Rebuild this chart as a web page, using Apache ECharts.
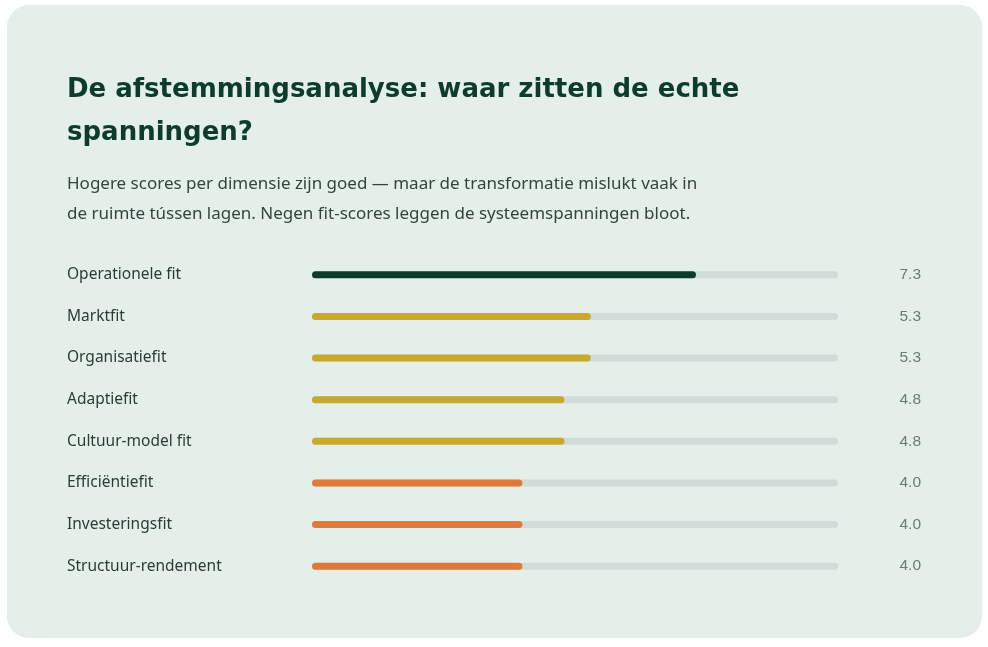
<!DOCTYPE html>
<html>
<head>
<meta charset="utf-8">
<script src="https://cdn.jsdelivr.net/npm/echarts@6/dist/echarts.min.js"></script>
<style>
  html, body { margin: 0; padding: 0; background: #fff; }
  #chart { width: 988px; height: 647px; }
</style>
</head>
<body>
<div id="chart"></div>
<script>
const categories = [
  "Operationele fit", "Marktfit", "Organisatiefit", "Adaptiefit",
  "Cultuur-model fit", "Efficiëntiefit", "Investeringsfit", "Structuur-rendement"
];
const scores = [7.3, 5.3, 5.3, 4.8, 4.8, 4.0, 4.0, 4.0];
const maxScore = 10;

const titleText = "De afstemmingsanalyse: waar zitten de echte\nspanningen?";
const subText = "Hogere scores per dimensie zijn goed — maar de transformatie mislukt vaak in\nde ruimte tússen lagen. Negen fit-scores leggen de systeemspanningen bloot.";

// kleur per score-band
function barColor(v) {
  if (v >= 7) return "#0b3d2e";
  if (v >= 4.5) return "#c9a82e";
  return "#e07a3a";
}

const chart = echarts.init(document.getElementById("chart"));

chart.setOption({
  animation: false,
  graphic: [
    {
      type: "rect",
      z: -10,
      shape: { x: 7, y: 5, width: 975, height: 633, r: 22 },
      style: { fill: "#e4efe9" },
    },
  ],
  title: {
    left: 67,
    top: 69,
    padding: 0,
    text: titleText,
    subtext: subText,
    itemGap: 14,
    textStyle: {
      fontFamily: "DejaVu Sans",
      fontWeight: 700,
      fontSize: 26,
      lineHeight: 43,
      color: "#0d3b2e",
    },
    subtextStyle: {
      fontFamily: "Noto Sans",
      fontSize: 17,
      lineHeight: 30,
      color: "#34433d",
    },
  },
  grid: { left: 312, right: 150, top: 254, bottom: 60 },
  xAxis: {
    type: "value",
    min: 0,
    max: maxScore,
    show: false,
  },
  yAxis: [
    {
      type: "category",
      inverse: true,
      data: categories,
      axisLine: { show: false },
      axisTick: { show: false },
      axisLabel: {
        align: "left",
        margin: 245,
        fontFamily: "Noto Sans",
        fontSize: 15.5,
        color: "#2d3b36",
      },
    },
    {
      type: "category",
      inverse: true,
      position: "right",
      data: scores.map((v) => v.toFixed(1)),
      axisLine: { show: false },
      axisTick: { show: false },
      axisLabel: {
        align: "right",
        margin: 83,
        fontFamily: "Liberation Sans",
        fontSize: 15.5,
        color: "#6b7a72",
      },
    },
  ],
  series: [
    {
      type: "bar",
      barWidth: 7,
      silent: true,
      itemStyle: { color: "#d1dbd7", borderRadius: 4 },
      data: scores.map(() => maxScore),
      z: 1,
    },
    {
      type: "bar",
      barWidth: 7,
      barGap: "-100%",
      data: scores.map((v) => ({ value: v, itemStyle: { color: barColor(v) } })),
      itemStyle: { borderRadius: 4 },
      z: 2,
    },
  ],
});
</script>
</body>
</html>
